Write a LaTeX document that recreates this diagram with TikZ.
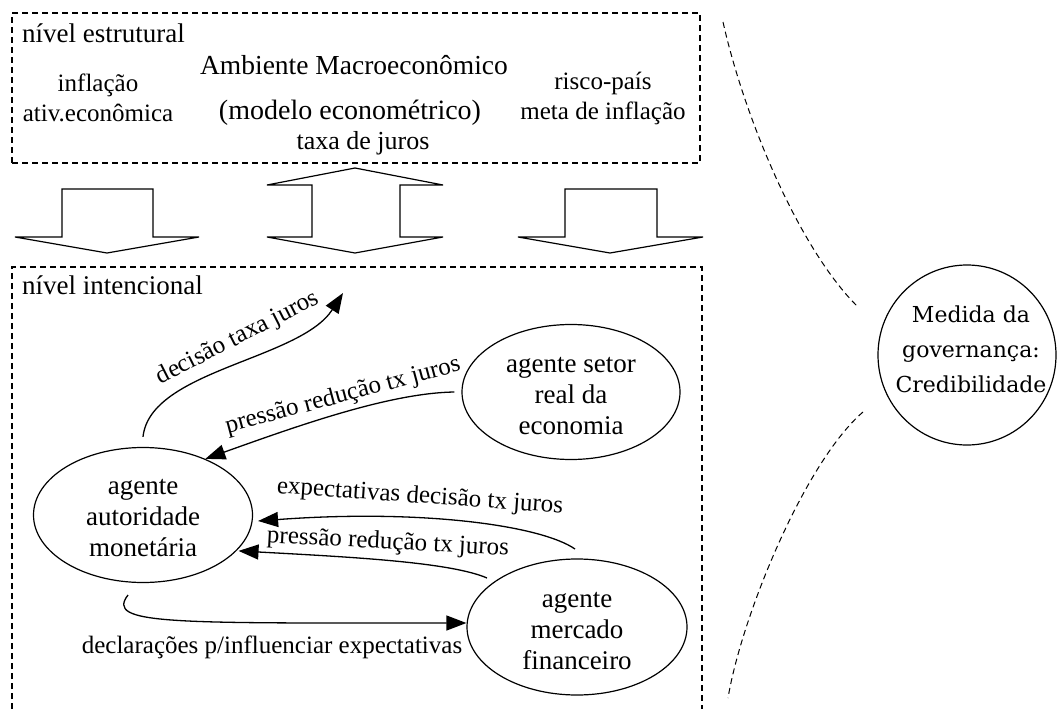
\documentclass[tikz,border=0pt]{standalone}
\usepackage{fontspec}
\setmainfont{Liberation Serif}
\newfontfamily\govfont{DejaVu Serif}
\usetikzlibrary{shapes.geometric,arrows.meta}
\begin{document}
\begin{tikzpicture}[x=1pt,y=-1pt,
  frame/.style={draw, dash pattern=on 6pt off 4pt, line width=1.1pt},
  blockarrow/.style={draw, line width=1.2pt, line join=miter},
  agent/.style={draw, ellipse, line width=1.2pt, inner sep=0pt},
  agtext/.style={align=center, font=\fontsize{27}{31}\selectfont, inner sep=0pt},
  head/.style={inner sep=0pt, font=\fontsize{27}{31}\selectfont},
  big/.style={inner sep=0pt, font=\fontsize{27.5}{32}\selectfont},
  side/.style={inner sep=0pt, align=center, font=\fontsize{25}{30}\selectfont},
  lbl/.style={inner sep=0pt, font=\fontsize{25}{29}\selectfont},
  flow/.style={draw, line width=1.3pt, -{Triangle[length=20pt,width=15pt]}},
]
\useasboundingbox (0,0) rectangle (1058,709);

% structural level
\node[frame, minimum width=688pt, minimum height=150pt] (struct) at (356,88) {};
\node[head, anchor=west] (ne) at (22,33) {nível estrutural};
\node[big] (amb) at (354,65) {Ambiente Macroeconômico};
\node[big, font=\fontsize{28}{32}\selectfont] (mod) at (350,113) {(modelo econométrico)};
\node[lbl, font=\fontsize{26}{30}\selectfont] (tj) at (363,143) {taxa de juros};
\node[side] (infl) at (98,98) {inflação\\ativ.econômica};
\node[side] (risk) at (603,98) {risco-país\\meta de inflação};

% block arrows between the levels
\draw[blockarrow] (62,189) -- (153,189) -- (153,237) -- (199,237) -- (107,253)
  -- (15,237) -- (62,237) -- cycle;
\draw[blockarrow] (355,168) -- (443,185) -- (400,185) -- (400,237) -- (443,237)
  -- (355,253) -- (267,237) -- (312,237) -- (312,185) -- (267,185) -- cycle;
\draw[blockarrow] (565,189) -- (657,189) -- (657,237) -- (703,237) -- (610,253)
  -- (518,237) -- (565,237) -- cycle;

% intentional level (open at the bottom)
\draw[frame] (12,709) -- (12,267) -- (702,267) -- (702,709);
\node[head, anchor=west] (ni) at (22,285) {nível intencional};

% agents
\node[agent, minimum width=219pt, minimum height=135pt] (am) at (143,515) {};
\node[agtext] (amt) at (143,518) {agente\\autoridade\\monetária};
\node[agent, minimum width=218pt, minimum height=135pt] (sr) at (571,392) {};
\node[agtext] (srt) at (571,396) {agente setor\\real da\\economia};
\node[agent, minimum width=220pt, minimum height=136pt] (mf) at (577,627) {};
\node[agtext] (mft) at (577,631) {agente\\mercado\\financeiro};

% governance measure
\node[agent, minimum width=178pt, minimum height=180pt] (gov) at (967,355) {};
\node[align=center, inner sep=0pt, font=\govfont\fontsize{22}{35}\selectfont] (govt) at (971,349) {Medida da\\governança:\\Credibilidade};

% connector end points
\coordinate (decEnd) at (343,293);
\coordinate (amTop) at ([yshift=10pt]am.north);
\coordinate (amLow) at (128,595);
\coordinate (mfTop) at (575,549);
\coordinate (mfUp) at (487,578);
\coordinate (srOut) at ([xshift=-7pt]sr.west);

% flows
\draw[flow] (amTop) .. controls (150,370) and (300,360) .. (decEnd);
\node[lbl, rotate=27] (ldec) at (238,338) {decisão taxa juros};

\draw[flow] (srOut) .. controls (390,393) and (300,425) .. (am.42);
\node[lbl, rotate=15] (lpr1) at (343,396) {pressão redução tx juros};

\draw[flow] (mfTop) .. controls (540,525) and (420,509) .. ([shift={(5pt,-6pt)}]am.east);
\node[lbl, rotate=-4] (lexp) at (420,497) {expectativas decisão tx juros};

\draw[flow] (mfUp) .. controls (450,562) and (350,557) .. ([xshift=2pt]am.-21);
\node[lbl, rotate=-3] (lpr2) at (388,543) {pressão redução tx juros};

\draw[flow] (amLow) .. controls (105,625) and (170,623) .. ([yshift=4pt]mf.west);
\node[lbl] (ldecl) at (272,647) {declarações p/influenciar expectativas};

% boundary of the governance measure
\coordinate (ga) at (723,22);
\coordinate (gb) at (858,307);
\coordinate (gc) at (863,412);
\coordinate (gd) at (728,698);
\draw[frame, line width=1pt] (ga) .. controls (745,120) and (800,250) .. (gb);
\draw[frame, line width=1pt] (gc) .. controls (805,462) and (742,615) .. (gd);
\end{tikzpicture}
\end{document}
